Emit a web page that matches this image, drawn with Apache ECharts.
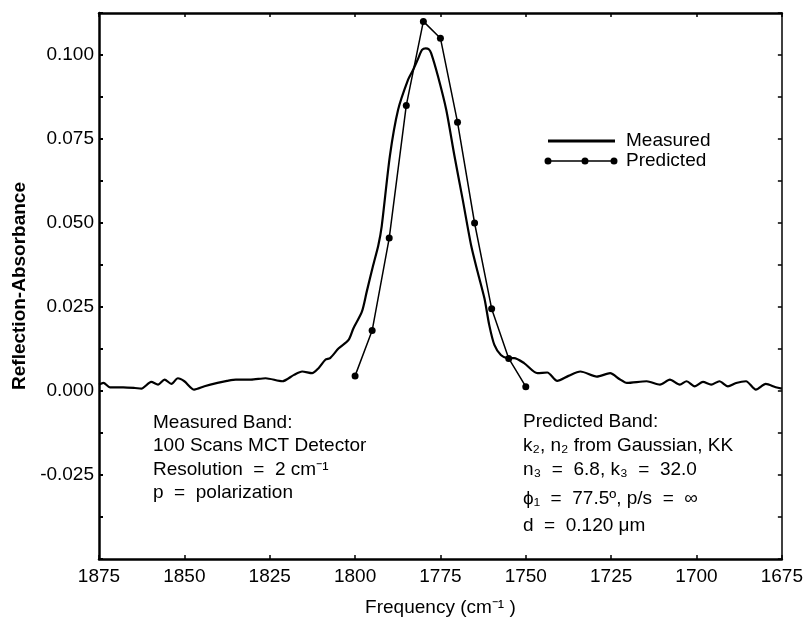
<!DOCTYPE html>
<html><head><meta charset="utf-8">
<script src="https://cdn.jsdelivr.net/npm/echarts@6/dist/echarts.min.js"></script>
<style>html,body{margin:0;padding:0;background:#fff}#c{width:806px;height:622px}</style>
</head><body><div id="c"></div>
<script>
// ---- data ----
const measuredFreq = [1875,1873.7,1871.8,1867.9,1864.5,1862.6,1859.7,1857.7,1855.8,1853.8,1851.9,1850,1847.1,1844.1,1840.3,1837.5,1834.9,1830.5,1826.2,1821.3,1817.9,1815.5,1812.6,1810.7,1808.7,1807.3,1804.8,1801.9,1800.5,1798,1796.6,1794.7,1793.2,1792.2,1789.8,1787.4,1784.5,1783,1781.5,1780.4,1779.3,1778.4,1777.7,1775.7,1773.3,1770.9,1768.5,1766,1764.1,1762.1,1760.7,1759.2,1757.3,1755.4,1753.4,1750.5,1746.6,1743.7,1740.8,1737.5,1734,1729.2,1725.3,1722.5,1720.4,1714.6,1710.7,1707.8,1704.9,1702.9,1700.5,1698.1,1695.7,1693.3,1690.8,1688.4,1685.5,1682.6,1679.7,1676.8,1675];
const measuredAbs = [0.0019,0.0024,0.0011,0.0011,0.0009,0.0007,0.0027,0.0019,0.0034,0.0021,0.0038,0.0029,0.0004,0.0014,0.0024,0.0030,0.0034,0.0034,0.0038,0.0029,0.0048,0.0058,0.0053,0.0068,0.0093,0.0098,0.0127,0.0152,0.0186,0.0236,0.0295,0.0374,0.0433,0.0490,0.0700,0.0837,0.0926,0.0956,0.0990,0.1015,0.1020,0.1017,0.1005,0.0936,0.0837,0.0700,0.0571,0.0433,0.0354,0.0275,0.0196,0.0137,0.0107,0.0098,0.0098,0.0083,0.0053,0.0055,0.0030,0.0045,0.0058,0.0043,0.0053,0.0035,0.0024,0.0029,0.0019,0.0034,0.0019,0.0029,0.0014,0.0027,0.0019,0.0029,0.0014,0.0024,0.0029,0.0004,0.0021,0.0011,0.0007];
const predictedFreq = [1800,1795,1790,1785,1780,1775,1770,1765,1760,1755,1750];
const predictedAbs = [0.0045,0.018,0.0455,0.085,0.110,0.105,0.080,0.050,0.0245,0.0097,0.0013];
const yTickLabels = ['-0.025','0.000','0.025','0.050','0.075','0.100'];
const seriesNames = ['Measured','Predicted'];
const measuredNotes = ['Measured Band:','100 Scans MCT Detector','Resolution  =  2 cm\u207B\u00B9','p  =  polarization'];
const predictedNotes = ['Predicted Band:','k\u2082, n\u2082 from Gaussian, KK','n\u2083  =  6.8, k\u2083  =  32.0','\u03D5\u2081  =  77.5\u00BA, p/s  =  \u221E','d  =  0.120 \u03BCm'];
const xTitle = 'Frequency (cm\u207B\u00B9 )';
const yTitle = 'Reflection-Absorbance';

// ---- chart ----
const FONT = '"Liberation Sans", Arial, Helvetica, sans-serif';
const chart = echarts.init(document.getElementById('c'), null, {renderer:'canvas'});
const zip = (a,b) => a.map((v,i)=>[v,b[i]]);

const noteY1 = [423,446,470,493];
const noteY2 = [422,446,470,499,526];
const graphics = [];
measuredNotes.forEach((t,i)=>graphics.push({type:'text',x:153,y:noteY1[i],style:{text:t,font:'19px '+FONT,fill:'#000',verticalAlign:'middle'}}));
predictedNotes.forEach((t,i)=>graphics.push({type:'text',x:523,y:noteY2[i],style:{text:t,font:'19px '+FONT,fill:'#000',verticalAlign:'middle'}}));

const predIcon = 'path://M3.5 2.75H69.5V4.25H3.5Z M0 3.5A3.5 3.5 0 1 1 7 3.5A3.5 3.5 0 1 1 0 3.5Z M37 3.5A3.5 3.5 0 1 1 44 3.5A3.5 3.5 0 1 1 37 3.5Z M66 3.5A3.5 3.5 0 1 1 73 3.5A3.5 3.5 0 1 1 66 3.5Z';
const legendText = {fontSize:19,lineHeight:20,color:'#000',fontFamily:FONT};

chart.setOption({
  animation:false,
  backgroundColor:'#fff',
  grid:{left:99,right:20,top:13,bottom:59,containLabel:false},
  legend:[
    {data:[seriesNames[0]],left:548,top:131,padding:0,itemWidth:67,itemHeight:3,icon:'rect',selectedMode:false,
     itemStyle:{color:'#000',borderWidth:0},textStyle:Object.assign({padding:[0,0,0,6]},legendText)},
    {data:[{name:seriesNames[1],icon:predIcon}],left:544.5,top:151,padding:0,itemWidth:73,itemHeight:7,selectedMode:false,
     itemStyle:{color:'#000',borderWidth:0},textStyle:Object.assign({padding:[0,0,0,3.5]},legendText)}
  ],
  xAxis:[
    {type:'value',position:'bottom',min:1675,max:1875,interval:25,inverse:true,
     axisLine:{show:true,onZero:false,lineStyle:{color:'#000',width:2.5}},
     axisTick:{show:true,inside:true,length:4,lineStyle:{color:'#000',width:1.5}},
     axisLabel:{color:'#000',fontSize:19,fontFamily:FONT,margin:8,formatter:v=>String(v)},
     splitLine:{show:false},
     name:xTitle,nameLocation:'middle',nameGap:39,
     nameTextStyle:{color:'#000',fontSize:19,fontFamily:FONT}},
    {type:'value',position:'top',min:1675,max:1875,interval:25,inverse:true,
     axisLine:{show:true,onZero:false,lineStyle:{color:'#000',width:2.5}},
     axisTick:{show:true,inside:true,length:4,lineStyle:{color:'#000',width:1.5}},
     axisLabel:{show:false},splitLine:{show:false}}
  ],
  yAxis:[
    {type:'value',position:'left',min:-0.05,max:0.1125,interval:0.0125,
     axisLine:{show:true,onZero:false,lineStyle:{color:'#000',width:2.5}},
     axisTick:{show:true,inside:true,length:4,lineStyle:{color:'#000',width:2}},
     axisLabel:{color:'#000',fontSize:19,fontFamily:FONT,margin:5,
       formatter:v=>{const s=(Math.abs(v)<1e-9?0:v).toFixed(3);return yTickLabels.indexOf(s)>=0?s:'';}},
     splitLine:{show:false},
     name:yTitle,nameLocation:'middle',nameGap:70,
     nameTextStyle:{color:'#000',fontSize:19,fontWeight:'bold',fontFamily:FONT}},
    {type:'value',position:'right',min:-0.05,max:0.1125,interval:0.0125,
     axisLine:{show:true,onZero:false,lineStyle:{color:'#000',width:1.5}},
     axisTick:{show:true,inside:true,length:4,lineStyle:{color:'#000',width:1.5}},
     axisLabel:{show:false},splitLine:{show:false}}
  ],
  series:[
    {name:seriesNames[0],type:'line',data:zip(measuredFreq,measuredAbs),showSymbol:false,symbol:'none',smooth:0.25,
     lineStyle:{color:'#000',width:2.2},itemStyle:{color:'#000'},z:3},
    {name:seriesNames[1],type:'line',data:zip(predictedFreq,predictedAbs),symbol:'circle',symbolSize:7,showSymbol:true,
     lineStyle:{color:'#000',width:1.5},itemStyle:{color:'#000',borderWidth:0},z:4}
  ],
  graphic:graphics
});
</script></body></html>
